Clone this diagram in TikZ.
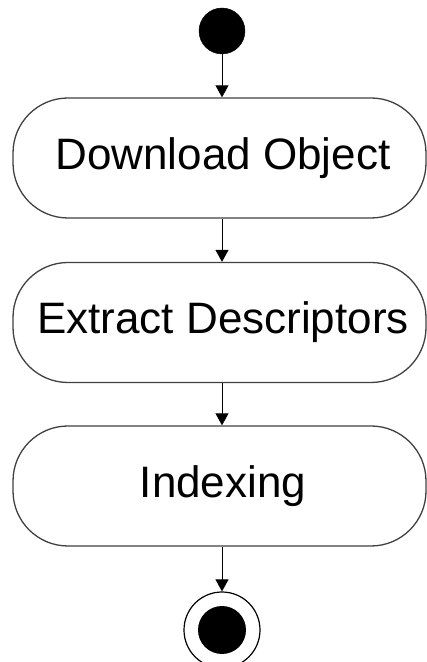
\documentclass[tikz,border=0pt]{standalone}
\usepackage{fontspec}
\setmainfont{Liberation Sans}
\usetikzlibrary{arrows.meta}
\begin{document}
\begin{tikzpicture}[x=1pt,y=1pt,
  action/.style={draw=black!75, line width=1.3pt, rectangle, rounded corners=55pt,
    minimum width=413pt, minimum height=120pt, inner sep=0pt,
    font=\fontsize{44}{48}\selectfont},
  flow/.style={draw=black, line width=1pt, -{Triangle[width=13pt,length=12pt]}},
  initial/.style={circle, fill=black, draw=black, minimum size=46pt, inner sep=0pt},
  finalring/.style={circle, draw=black, line width=1.2pt, fill=white, minimum size=76pt, inner sep=0pt},
  finaldot/.style={circle, fill=black, minimum size=48pt, inner sep=0pt}]
\useasboundingbox (0,0) rectangle (427,662);
\node[initial] (start) at (222,631) {};
\node[action] (b1) at (219.5,504) {};
\node at (223,504) {\fontsize{44}{48}\selectfont Download Object};
\node[action] (b2) at (219.5,339.5) {};
\node at (223,339.5) {\fontsize{44}{48}\selectfont Extract Descriptors};
\node[action] (b3) at (219.5,176) {};
\node at (223,176) {\fontsize{44}{48}\selectfont Indexing};
\node[finalring] (stop) at (222,32) {};
\node[finaldot] (stopdot) at (stop.center) {};
\draw[flow] (start.south) -- (start.south |- b1.north);
\draw[flow] (start.south |- b1.south) -- (start.south |- b2.north);
\draw[flow] (start.south |- b2.south) -- (start.south |- b3.north);
\draw[flow] (start.south |- b3.south) -- (stop.north);
\end{tikzpicture}
\end{document}
